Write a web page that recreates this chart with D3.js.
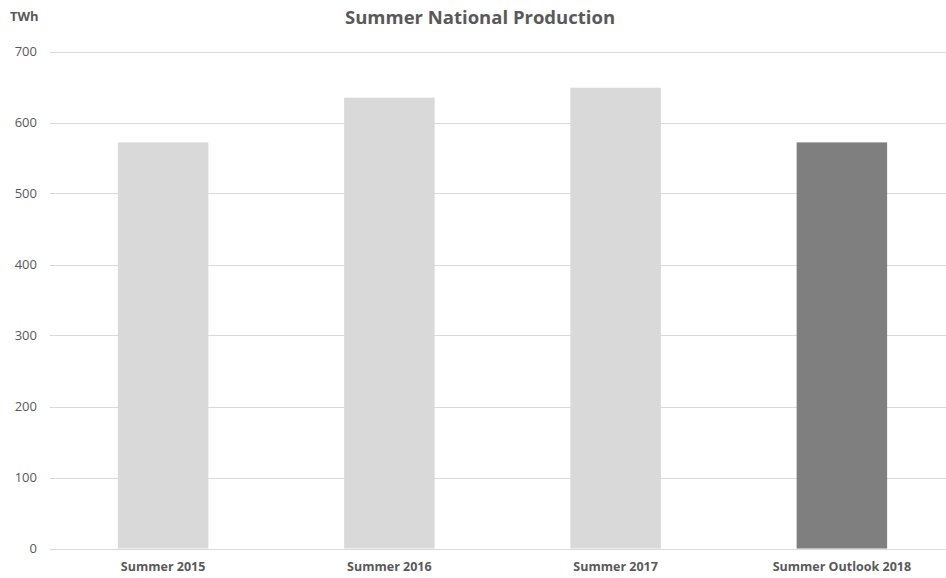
<!DOCTYPE html>
<html>
<head>
<meta charset="utf-8">
<script src="https://cdn.jsdelivr.net/npm/d3@7"></script>
<style>
  body { margin: 0; background: #fff; }
  text { font-family: "Open Sans", "Noto Sans", sans-serif; fill: #595959; }
</style>
</head>
<body>
<div class="canvas"></div>
<script>
const categories = ['Summer 2015', 'Summer 2016', 'Summer 2017', 'Summer Outlook 2018'];
const values = [572, 635, 649, 572];
const barColours = ['#d9d9d9', '#d9d9d9', '#d9d9d9', '#7f7f7f'];
const yTicks = [0, 100, 200, 300, 400, 500, 600, 700];

const dims = { width: 946, height: 578 };
const plot = { left: 50, right: 955, top: 51.5, bottom: 548.5 };

const svg = d3.select('.canvas')
    .append('svg')
    .attr('width', dims.width)
    .attr('height', dims.height)
;

const x = d3.scaleBand()
    .domain(categories)
    .range([plot.left, plot.right])
    .paddingInner(0.6)
    .paddingOuter(0.3)
;

const y = d3.scaleLinear()
    .domain([0, 700])
    .range([plot.bottom, plot.top])
;

// gridlines
svg.append('g')
    .selectAll('line')
    .data(yTicks)
    .enter()
    .append('line')
    .attr('x1', plot.left)
    .attr('x2', dims.width)
    .attr('y1', d => Math.round(y(d)) + 0.5)
    .attr('y2', d => Math.round(y(d)) + 0.5)
    .attr('stroke', '#d9d9d9')
    .attr('stroke-width', 1)
;

// bars
svg.append('g')
    .selectAll('rect')
    .data(values)
    .enter()
    .append('rect')
    .attr('x', (d, i) => x(categories[i]))
    .attr('width', x.bandwidth())
    .attr('y', d => y(d))
    .attr('height', d => y(0) - y(d))
    .attr('fill', (d, i) => barColours[i])
;

// y tick labels
svg.append('g')
    .selectAll('text')
    .data(yTicks)
    .enter()
    .append('text')
    .attr('x', 37)
    .attr('y', d => y(d))
    .attr('dy', '0.35em')
    .attr('text-anchor', 'end')
    .style('font-size', '13px')
    .text(d => d)
;

// category labels
svg.append('g')
    .selectAll('text')
    .data(categories)
    .enter()
    .append('text')
    .attr('x', d => x(d) + x.bandwidth() / 2)
    .attr('y', 571)
    .attr('text-anchor', 'middle')
    .style('font-size', '12.5px')
    .style('font-weight', 'bold')
    .text(d => d)
;

svg.append('text')
    .attr('x', 10)
    .attr('y', 21)
    .style('font-size', '13px')
    .style('font-weight', 'bold')
    .text('TWh')
;

svg.append('text')
    .attr('x', 480)
    .attr('y', 24)
    .attr('text-anchor', 'middle')
    .style('font-size', '18.5px')
    .style('font-weight', 'bold')
    .text('Summer National Production')
;
</script>
</body>
</html>
